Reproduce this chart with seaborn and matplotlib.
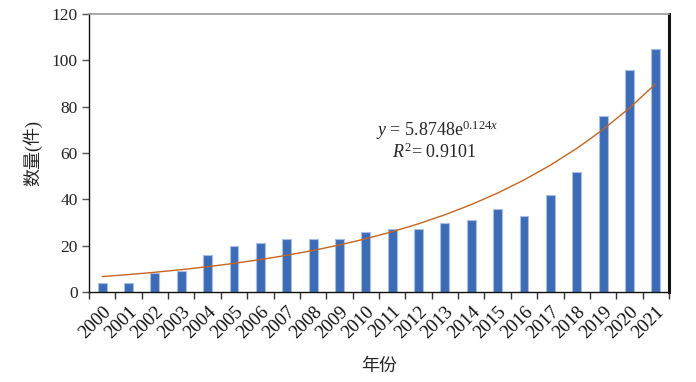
import numpy as np
import pandas as pd
import seaborn as sns
import matplotlib.pyplot as plt
from matplotlib.ticker import FixedLocator

years = [str(y) for y in range(2000, 2022)]
counts = [4, 4, 8, 9, 16, 20, 21, 23, 23, 23, 26, 27, 27, 30, 31, 36, 33, 42, 52, 76, 96, 105]

# exponential trend line shown in the chart: y = a * exp(b * x), x = 1..22
fit_a = 5.8748
fit_b = 0.124

df = pd.DataFrame({"年份": years, "数量": counts})

sns.set_style("white")
plt.rcParams["font.family"] = ["Liberation Serif", "Noto Sans CJK SC", "DejaVu Sans"]
plt.rcParams["mathtext.fontset"] = "custom"
plt.rcParams["mathtext.rm"] = "Liberation Serif"
plt.rcParams["mathtext.it"] = "Liberation Serif:italic"

fig, ax = plt.subplots(figsize=(6.96, 3.82), dpi=100)
fig.subplots_adjust(left=89 / 696, right=669 / 696, top=1 - 14 / 382, bottom=1 - 292 / 382)

sns.barplot(data=df, x="年份", y="数量", ax=ax, color="#3d6cb7", width=0.34,
            saturation=1, edgecolor="#a9bde6", linewidth=0.8)

pos = np.arange(len(years))
trend = fit_a * np.exp(fit_b * (pos + 1))
ax.plot(pos, trend, color="#c8641e", lw=1.0)

ax.set_xlim(-0.5, len(years) - 0.5)
ax.set_ylim(0, 120)
ax.set_yticks(range(0, 121, 20))
ax.tick_params(axis="y", labelsize=12.5, length=5, width=1, color="#555555", direction="out", left=True, pad=3)
ax.tick_params(axis="x", which="major", labelsize=13.5, length=0, pad=8, colors="#111111")
ax.xaxis.set_minor_locator(FixedLocator(np.arange(-0.5, len(years), 1)))
ax.tick_params(axis="x", which="minor", length=5, width=1, color="#333333", direction="out", bottom=True)
plt.setp(ax.get_xticklabels(), rotation=45, ha="right", rotation_mode="anchor")

ax.set_xlabel("年份", fontsize=13, labelpad=12)
ax.set_ylabel("数量(件)", fontsize=13, labelpad=7)

for side in ["left", "bottom"]:
    ax.spines[side].set_color("#111111")
    ax.spines[side].set_linewidth(1.0)
ax.spines["top"].set_color("#999999")
ax.spines["top"].set_linewidth(1.2)
ax.spines["right"].set_color("#111111")
ax.spines["right"].set_linewidth(2.2)

ax.text(12.7, 70, r"$y$ = 5.8748e$^{0.124x}$", fontsize=13, ha="center", va="center")
ax.text(12.6, 60.5, r"$R^2$= 0.9101", fontsize=13, ha="center", va="center")

plt.savefig("out.png", dpi=100)
plt.close()
